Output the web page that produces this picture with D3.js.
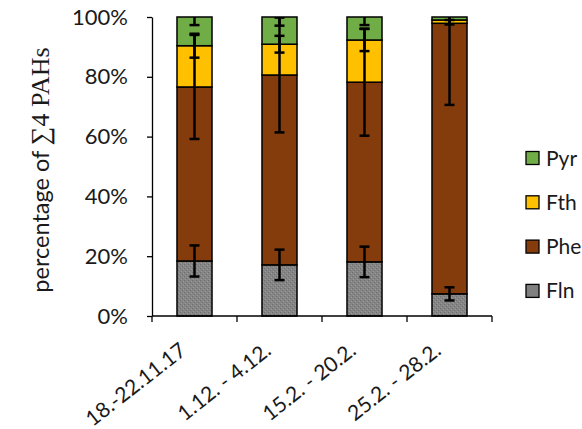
<!DOCTYPE html>
<html>
<head>
<meta charset="utf-8">
<script src="https://cdn.jsdelivr.net/npm/d3@7"></script>
<style>
  html, body { margin: 0; padding: 0; background: #fff; }
  svg { display: block; }
</style>
</head>
<body>
<svg id="chart" width="582" height="429"></svg>
<script>
// Sampling periods
const categories = ["18.-22.11.17", "1.12. - 4.12.", "15.2. - 20.2.", "25.2. - 28.2."];
// Share of each compound in the sum of 4 PAHs (%)
const fln = [18.4, 17.1, 18.1, 7.4];
const phe = [58.2, 63.5, 60.1, 90.5];
const fth = [13.8, 10.3, 14.1, 1.1];
const pyr = [9.6, 9.1, 7.7, 1.0];
// Standard deviations (%)
const flnErr = [5.2, 5.1, 5.1, 2.2];
const pheErr = [17.4, 19.2, 17.9, 27.3];
const fthErr = [4.0, 2.8, 3.7, 1.5];
const pyrErr = [2.7, 2.9, 2.7, 1.0];
const yTicks = [0, 20, 40, 60, 80, 100];

const seriesNames = ["Fln", "Phe", "Fth", "Pyr"];
const seriesValues = [fln, phe, fth, pyr];
const seriesErrs = [flnErr, pheErr, fthErr, pyrErr];
const colors = { Fln: "#808080", Phe: "#843C0C", Fth: "#FFC000", Pyr: "#70AD47" };

const rows = categories.map((c, i) => {
  const r = { cat: c };
  seriesNames.forEach((s, k) => { r[s] = seriesValues[k][i]; r[s + "_err"] = seriesErrs[k][i]; });
  return r;
});

const svg = d3.select("#chart");
const margin = { left: 152, right: 90, top: 17, bottom: 113 };
const W = 582, H = 429;
const plotW = W - margin.left - margin.right;
const plotH = H - margin.top - margin.bottom;

const x = d3.scaleBand().domain(categories).range([margin.left, margin.left + plotW])
  .paddingInner(0.588).paddingOuter(0.294);
const y = d3.scaleLinear().domain([0, 100]).range([margin.top + plotH, margin.top]);

const stack = d3.stack().keys(seriesNames)(rows);

const fontSans = "Lato, 'Open Sans', sans-serif";
const textColor = "#1a1a1a";

// Grainy fill for the Fln segment
const defs = svg.append("defs");
const pat = defs.append("pattern").attr("id", "grain").attr("patternUnits", "userSpaceOnUse")
  .attr("width", 4).attr("height", 4);
pat.append("rect").attr("width", 4).attr("height", 4).attr("fill", "#858585");
pat.append("rect").attr("x", 0).attr("y", 0).attr("width", 1).attr("height", 1).attr("fill", "#6f6f6f");
pat.append("rect").attr("x", 2).attr("y", 2).attr("width", 1).attr("height", 1).attr("fill", "#6f6f6f");
pat.append("rect").attr("x", 3).attr("y", 1).attr("width", 1).attr("height", 1).attr("fill", "#9a9a9a");
pat.append("rect").attr("x", 1).attr("y", 3).attr("width", 1).attr("height", 1).attr("fill", "#9a9a9a");

defs.append("clipPath").attr("id", "plotclip").append("rect")
  .attr("x", margin.left - 20).attr("y", y(100)).attr("width", plotW + 40).attr("height", plotH);

// Stacked bars
const layers = svg.append("g").selectAll("g").data(stack).join("g")
  .attr("fill", d => d.key === "Fln" ? "url(#grain)" : colors[d.key]);
layers.selectAll("rect").data(d => d).join("rect")
  .attr("x", d => x(d.data.cat))
  .attr("width", x.bandwidth())
  .attr("y", d => y(d[1]))
  .attr("height", d => y(d[0]) - y(d[1]))
  .attr("stroke", "#000").attr("stroke-width", 1.5);

// Error bars at the top of each segment
const errG = svg.append("g").attr("clip-path", "url(#plotclip)");
stack.forEach(layer => {
  layer.forEach(d => {
    const cx = x(d.data.cat) + x.bandwidth() / 2;
    const e = d.data[layer.key + "_err"];
    const top = d[1];
    const lo = y(Math.max(0, top - e)), hi = y(top + e);
    errG.append("line").attr("x1", cx).attr("x2", cx).attr("y1", lo).attr("y2", hi)
      .attr("stroke", "#000").attr("stroke-width", 2.5);
    [lo, hi].forEach(py => {
      errG.append("line").attr("x1", cx - 5).attr("x2", cx + 5).attr("y1", py).attr("y2", py)
        .attr("stroke", "#000").attr("stroke-width", 2.5);
    });
  });
});

// Y axis
const yAxis = svg.append("g").attr("transform", `translate(${margin.left},0)`)
  .call(d3.axisLeft(y).tickValues(yTicks).tickFormat(d => d + "%").tickSize(5).tickSizeOuter(0));
yAxis.select(".domain").attr("stroke", "#000").attr("stroke-width", 1.3);
yAxis.selectAll(".tick line").attr("stroke", "#000").attr("stroke-width", 1.3);
yAxis.selectAll(".tick text").attr("font-family", fontSans).attr("font-size", 22)
  .attr("fill", textColor).attr("x", -24);

// X axis with ticks at category boundaries
const xAxisG = svg.append("g").attr("transform", `translate(0,${y(0)})`);
xAxisG.append("line").attr("x1", margin.left).attr("x2", margin.left + plotW)
  .attr("stroke", "#000").attr("stroke-width", 1.3);
const step = x.step();
const boundaries = categories.map((c, i) => x(c) - x.paddingOuter() * step + step).concat([margin.left]);
xAxisG.selectAll("line.tk").data(boundaries).join("line").attr("class", "tk")
  .attr("x1", d => d).attr("x2", d => d).attr("y1", 0).attr("y2", 6)
  .attr("stroke", "#000").attr("stroke-width", 1.3);
xAxisG.selectAll("text").data(categories).join("text")
  .attr("transform", d => `translate(${x(d) + x.bandwidth() / 2 - 7},${37}) rotate(-38)`)
  .attr("text-anchor", "end")
  .attr("font-family", fontSans).attr("font-size", 21).attr("fill", textColor)
  .text(d => d);

// Y axis title
const title = svg.append("text")
  .attr("transform", `translate(49,170) rotate(-90)`)
  .attr("text-anchor", "middle").attr("fill", textColor);
title.append("tspan").attr("font-family", fontSans).attr("font-size", 23.5).text("percentage of ");
title.append("tspan").attr("font-family", "'Liberation Serif', 'DejaVu Serif', serif")
  .attr("font-size", 26).text("∑4 PAHs");

// Legend
const legendNames = ["Pyr", "Fth", "Phe", "Fln"];
const lg = svg.append("g").selectAll("g").data(legendNames).join("g")
  .attr("transform", (d, i) => `translate(526,${158 + i * 44.3})`);
lg.append("rect").attr("x", 0).attr("y", -6.5).attr("width", 13).attr("height", 13)
  .attr("fill", d => d === "Fln" ? "#808080" : colors[d]).attr("stroke", "#000").attr("stroke-width", 1.3);
lg.append("text").attr("x", 20).attr("y", 7.5).attr("font-family", fontSans).attr("font-size", 21)
  .attr("fill", textColor).text(d => d);
</script>
</body>
</html>
